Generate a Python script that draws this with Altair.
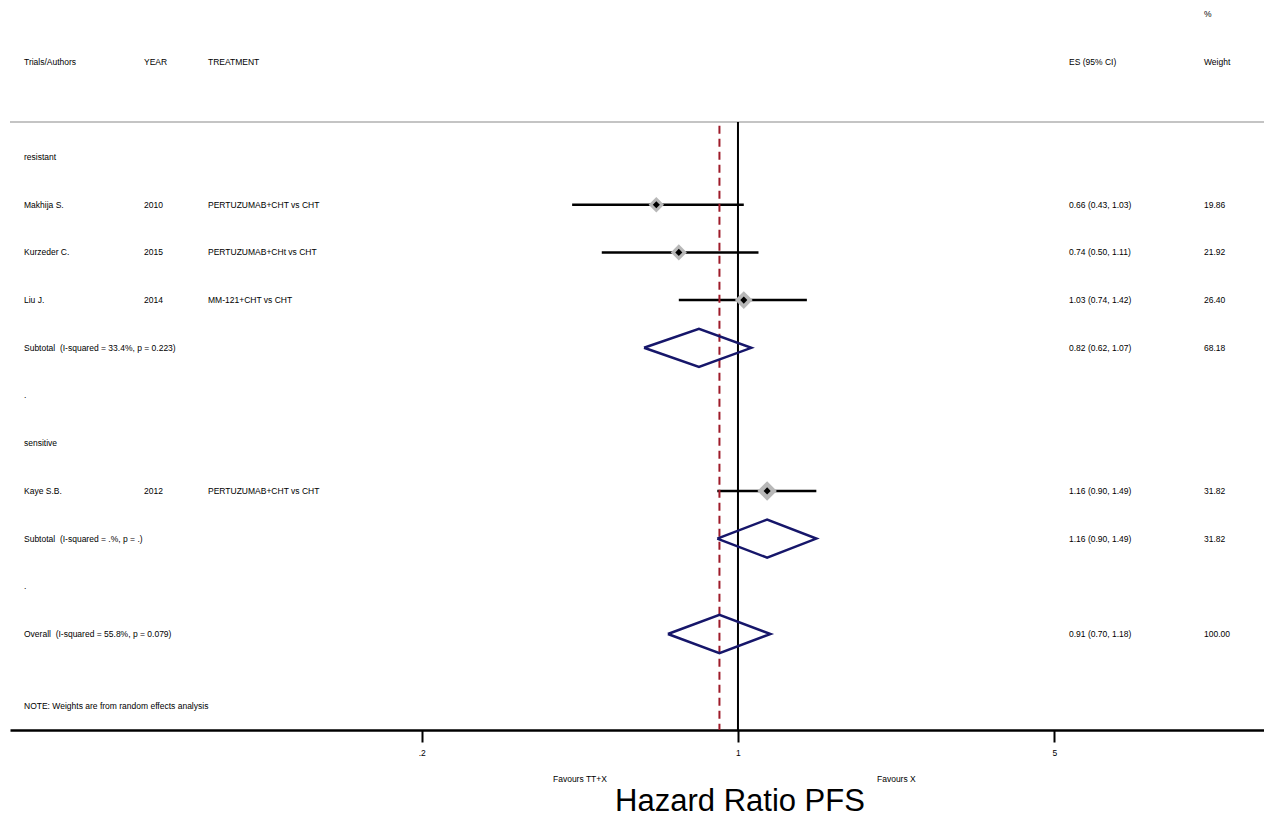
import altair as alt
import pandas as pd

# ---------------- data ----------------
study_names = ["Makhija S.", "Kurzeder C.", "Liu J.", "Kaye S.B."]
study_years = ["2010", "2015", "2014", "2012"]
study_treat = ["PERTUZUMAB+CHT vs CHT", "PERTUZUMAB+CHt vs CHT", "MM-121+CHT vs CHT", "PERTUZUMAB+CHT vs CHT"]
study_es = [0.66, 0.74, 1.03, 1.16]
study_lo = [0.43, 0.50, 0.74, 0.90]
study_hi = [1.03, 1.11, 1.42, 1.49]
study_w = [19.86, 21.92, 26.40, 31.82]
study_row = [1, 2, 3, 7]

pool_names = ["Subtotal\u00a0 (I-squared = 33.4%, p = 0.223)",
              "Subtotal\u00a0 (I-squared = .%, p = .)",
              "Overall\u00a0 (I-squared = 55.8%, p = 0.079)"]
pool_es = [0.82, 1.16, 0.91]
pool_lo = [0.62, 0.90, 0.70]
pool_hi = [1.07, 1.49, 1.18]
pool_w = [68.18, 31.82, 100.00]
pool_row = [4, 8, 10]

other_labels = ["resistant", ".", "sensitive", ".", "NOTE: Weights are from random effects analysis"]
other_rows = [0, 5, 6, 9, 11.5]

header_labels = ["Trials/Authors", "YEAR", "TREATMENT", "ES (95% CI)", "Weight", "%"]
header_rows = [-2, -2, -2, -2, -2, -3]

tick_values = [0.2, 1, 5]
overall_es = 0.91

# ---------------- tables ----------------
studies = pd.DataFrame({"name": study_names, "year": study_years, "treat": study_treat,
                        "es": study_es, "lo": study_lo, "hi": study_hi,
                        "w": study_w, "row": study_row})
studies["es_txt"] = [f"{e:.2f} ({l:.2f}, {h:.2f})" for e, l, h in zip(study_es, study_lo, study_hi)]
studies["w_txt"] = [f"{w:.2f}" for w in study_w]

pooled = pd.DataFrame({"name": pool_names, "es": pool_es, "lo": pool_lo, "hi": pool_hi,
                       "w": pool_w, "row": pool_row})
pooled["es_txt"] = [f"{e:.2f} ({l:.2f}, {h:.2f})" for e, l, h in zip(pool_es, pool_lo, pool_hi)]
pooled["w_txt"] = [f"{w:.2f}" for w in pool_w]

HALF = 0.4
verts = []
for i, (e, l, h, r) in enumerate(zip(pool_es, pool_lo, pool_hi, pool_row)):
    pts = [(l, r), (e, r - HALF), (h, r), (e, r + HALF), (l, r)]
    for k, (xv, yv) in enumerate(pts):
        verts.append({"id": i, "k": k, "x": xv, "y": yv})
diam = pd.DataFrame(verts)

others = pd.DataFrame({"label": other_labels, "row": other_rows})
headers = pd.DataFrame({"label": header_labels, "row": header_rows,
                        "col": ["a", "b", "c", "d", "e", "e"]})

# ---------------- scales ----------------
W, H = 1254, 722
FONT = "Liberation Sans"
FS = 8.5
xscale = alt.Scale(type="log", domain=[0.02461, 14.54], range=[0, W], nice=False, zero=False)
yscale = alt.Scale(domain=[-3.1237, 12.0126], reverse=True, nice=False, zero=False)
XAXIS = alt.Axis(
    values=tick_values, title=None, grid=False, ticks=True,
    labelExpr="datum.value < 0.5 ? '.2' : (datum.value < 2 ? '1' : '5')",
    tickSize=12, tickWidth=2, tickColor="black", tickOpacity=1,
    domainColor="black", domainWidth=2.5,
    labelFont=FONT, labelFontSize=FS, labelColor="black", labelPadding=6,
    labelFlush=False)
X = lambda f: alt.X(f, type="quantitative", scale=xscale, axis=XAXIS)
Y = lambda f: alt.Y(f, type="quantitative", scale=yscale, axis=None)

GRAY_ROW = -0.734

ci = alt.Chart(studies).mark_rule(color="black", strokeWidth=2.5).encode(
    x=X("lo"), x2="hi:Q", y=Y("row"))

gray_line = alt.Chart(pd.DataFrame({"row": [GRAY_ROW]})).mark_rule(
    color="#c4c4c4", strokeWidth=2.2).encode(
    x=alt.value(0), x2=alt.value(W), y=Y("row"))

null_line = alt.Chart(pd.DataFrame({"v": [1.0], "row": [GRAY_ROW]})).mark_rule(
    color="black", strokeWidth=2).encode(
    x=X("v"), y=Y("row"), y2=alt.value(H))

overall_line = alt.Chart(pd.DataFrame({"v": [overall_es], "row": [GRAY_ROW + 0.08]})).mark_rule(
    color="#9e1b2a", strokeWidth=2, strokeDash=[8, 5]).encode(
    x=X("v"), y=Y("row"), y2=alt.value(H))

boxes = alt.Chart(studies).mark_point(shape="diamond", filled=True, color="#b8b8b8", opacity=1).encode(
    x=X("es"), y=Y("row"),
    size=alt.Size("w:Q", scale=alt.Scale(domain=[0, 31.82], range=[0, 380]), legend=None))

pts = alt.Chart(studies).mark_point(shape="diamond", filled=True, color="black", size=50, opacity=1).encode(
    x=X("es"), y=Y("row"))

diamonds = alt.Chart(diam).mark_line(color="#16166a", strokeWidth=2.5).encode(
    x=X("x"), y=Y("y"),
    detail="id:N", order="k:Q")

def txt(df, field, xpix, align="left"):
    return alt.Chart(df).mark_text(align=align, baseline="middle", font=FONT,
                                   fontSize=FS, color="black").encode(
        x=alt.value(xpix), y=Y("row"), text=f"{field}:N")

XA, XB, XC, XD, XE = 14, 134, 198, 1059, 1194

texts = [
    txt(studies, "name", XA), txt(studies, "year", XB), txt(studies, "treat", XC),
    txt(studies, "es_txt", XD), txt(studies, "w_txt", XE),
    txt(pooled, "name", XA), txt(pooled, "es_txt", XD), txt(pooled, "w_txt", XE),
    txt(others, "label", XA),
    txt(headers[headers.col == "a"], "label", XA),
    txt(headers[headers.col == "b"], "label", XB),
    txt(headers[headers.col == "c"], "label", XC),
    txt(headers[headers.col == "d"], "label", XD),
    txt(headers[headers.col == "e"], "label", XE),
]

def free_text(label, xpix, ypix, size, align="left", baseline="middle"):
    return alt.Chart(pd.DataFrame({"label": [label]})).mark_text(
        align=align, baseline=baseline, font=FONT, fontSize=size, color="black").encode(
        x=alt.value(xpix), y=alt.value(ypix), text="label:N")

fav1 = free_text("Favours TT+X", 543, 771, FS)
fav2 = free_text("Favours X", 867, 771, FS)
title = free_text("Hazard Ratio PFS", 730, 810, 31, align="center", baseline="bottom")

chart = alt.layer(ci, gray_line, null_line, overall_line, boxes, pts, diamonds, *texts,
                  fav1, fav2, title).properties(
    width=W, height=H,
    background="white",
    autosize=alt.AutoSizeParams(type="none"),
    padding={"left": 2, "top": 0, "right": 0, "bottom": 88},
).configure_view(stroke=None)

chart.save("out.html", embed_options={"renderer": "svg", "actions": False})
